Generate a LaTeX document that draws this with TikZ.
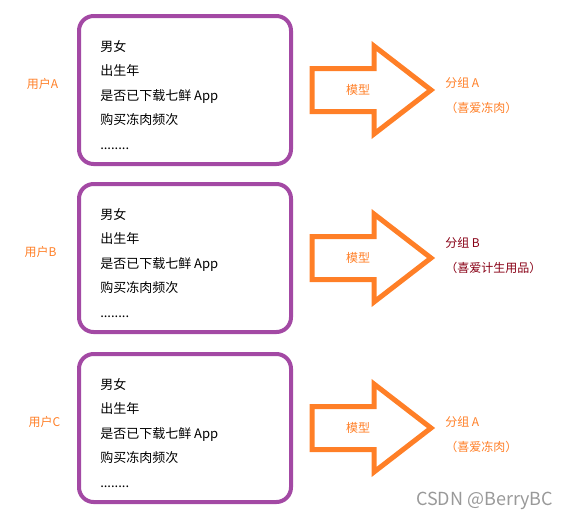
\documentclass[tikz,border=0pt]{standalone}
\usepackage{fontspec}
\setmainfont{Noto Sans CJK SC}
\usetikzlibrary{positioning}

\definecolor{boxpurple}{HTML}{A349A4}
\definecolor{modelorange}{HTML}{FF7F27}
\definecolor{groupred}{HTML}{880015}

\tikzset{
  userbox/.style={draw=boxpurple, line width=3pt, rounded corners=11pt,
    minimum width=159pt, minimum height=111pt},
  fields/.style={align=left, inner sep=0pt,
    font=\fontsize{9.75}{18.4}\selectfont},
  user/.style={text=modelorange, font=\fontsize{9}{11}\selectfont},
  model/.style={draw=modelorange, line width=3.75pt, line join=miter},
  group/.style={align=left, anchor=west, inner sep=0pt,
    font=\fontsize{9}{18.75}\selectfont}
}

\begin{document}
\begin{tikzpicture}[x=0.75pt,y=-0.75pt]
  \useasboundingbox (0,0) rectangle (574,519);

  % user A
  \node[userbox] (boxA) at (185,90) {};
  \node[fields, right=17.25pt of boxA.west, yshift=-3.75pt] (fieldsA)
    {男女\\出生年\\是否已下载七鲜 App\\购买冻肉频次\\........};
  \node[user] (userA) at (42.5,84) {用户A};
  \draw[model] (312,68.5) -- (374,68.5) -- (374,46) -- (431,90)
    -- (374,134) -- (374,111.5) -- (312,111.5) -- cycle;
  \node[text=modelorange, font=\fontsize{9}{11}\selectfont] (modelA) at (358,90) {模型};
  \node[group, text=modelorange] (groupA) at (445,95.5) {分组 A\\（喜爱冻肉）};

  % user B
  \node[userbox] (boxB) at (185,258) {};
  \node[fields, right=17.25pt of boxB.west, yshift=-3.75pt] (fieldsB)
    {男女\\出生年\\是否已下载七鲜 App\\购买冻肉频次\\........};
  \node[user] (userB) at (40.5,252) {用户B};
  \draw[model] (312,236.5) -- (374,236.5) -- (374,214) -- (431,258)
    -- (374,302) -- (374,279.5) -- (312,279.5) -- cycle;
  \node[text=modelorange, font=\fontsize{9}{11}\selectfont] (modelB) at (358,258) {模型};
  \node[group, text=groupred] (groupB) at (445,255.5) {分组 B\\（喜爱计生用品）};

  % user C
  \node[userbox] (boxC) at (185,428) {};
  \node[fields, right=17.25pt of boxC.west, yshift=-3.75pt] (fieldsC)
    {男女\\出生年\\是否已下载七鲜 App\\购买冻肉频次\\........};
  \node[user] (userC) at (44.5,422) {用户C};
  \draw[model] (312,406.5) -- (374,406.5) -- (374,384) -- (431,428)
    -- (374,472) -- (374,449.5) -- (312,449.5) -- cycle;
  \node[text=modelorange, font=\fontsize{9}{11}\selectfont] (modelC) at (358,428) {模型};
  \node[group, text=modelorange] (groupC) at (445,434.5) {分组 A\\（喜爱冻肉）};

  \node[anchor=base east, text=black!40, font=\fontsize{13.5}{16}\selectfont]
    (mark) at (558,505) {CSDN @BerryBC};
\end{tikzpicture}
\end{document}
